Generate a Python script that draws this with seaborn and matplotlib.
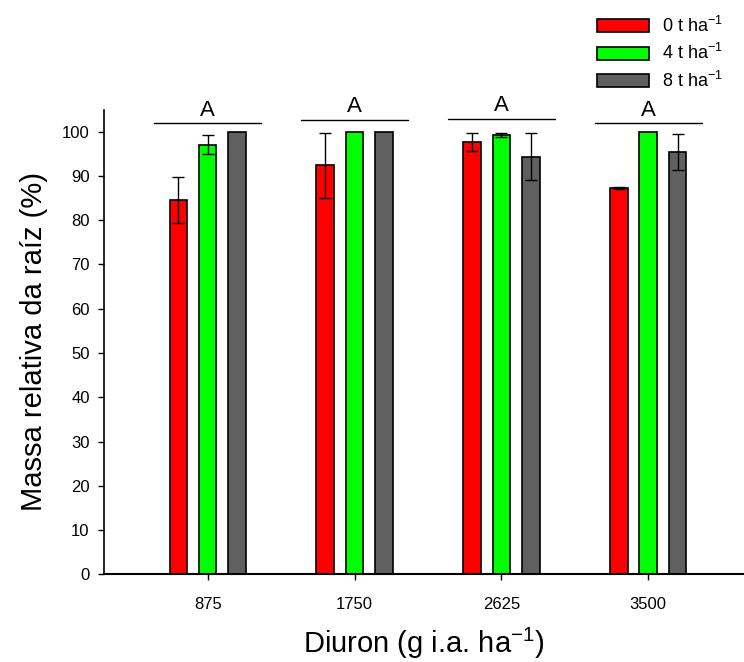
import numpy as np
import pandas as pd
import matplotlib
matplotlib.use("Agg")
import matplotlib.pyplot as plt
import seaborn as sns

# ---- data ----
doses = ["875", "1750", "2625", "3500"]
covers = ["0 t ha$^{-1}$", "4 t ha$^{-1}$", "8 t ha$^{-1}$"]
mass_0t = [84.6, 92.4, 97.7, 87.2]
mass_4t = [97.1, 100.0, 99.3, 100.0]
mass_8t = [100.0, 100.0, 94.4, 95.4]
err_0t = [5.2, 7.4, 2.1, 0.2]
err_4t = [2.1, 0.0, 0.4, 0.0]
err_8t = [0.0, 0.0, 5.4, 4.0]
letters = ["A", "A", "A", "A"]
letter_y = [101.9, 102.6, 102.9, 101.9]
colors = ["#FF0000", "#00FF00", "#606060"]

sns.set_theme(style="ticks")
plt.rcParams["font.family"] = ["Liberation Sans", "DejaVu Sans"]
plt.rcParams["mathtext.fontset"] = "custom"
plt.rcParams["mathtext.rm"] = "Liberation Sans"
plt.rcParams["mathtext.default"] = "regular"
for k in ["text.color", "axes.labelcolor", "xtick.color", "ytick.color", "axes.edgecolor"]:
    plt.rcParams[k] = "black"

rows = []
for c, vals in zip(covers, [mass_0t, mass_4t, mass_8t]):
    for d, v in zip(doses, vals):
        rows.append({"dose": d, "cover": c, "mass": v})
df = pd.DataFrame(rows)

fig = plt.figure(figsize=(7.44, 6.62), dpi=100)
ax = fig.add_axes([104.3 / 744, 87.7 / 662, (744 - 104.3) / 744, (574.3 - 109.6) / 662])

sns.barplot(data=df, x="dose", y="mass", hue="cover", order=doses, hue_order=covers,
            palette=colors, saturation=1, width=0.6, gap=0.4, edgecolor="black",
            linewidth=1.2, errorbar=None, ax=ax, legend=True)

errs = [err_0t, err_4t, err_8t]
vals_all = [mass_0t, mass_4t, mass_8t]
for cont, e, v in zip(ax.containers, errs, vals_all):
    for patch, ee, vv in zip(cont.patches, e, v):
        if ee > 0:
            xc = patch.get_x() + patch.get_width() / 2
            ax.errorbar(xc, vv, yerr=ee, fmt="none", ecolor="black", elinewidth=1.0,
                        capsize=4.5, capthick=1.0, zorder=5)

# group letters and lines
for i, (lt, ly) in enumerate(zip(letters, letter_y)):
    ax.plot([i - 0.365, i + 0.365], [ly, ly], color="black", lw=1.0, clip_on=False)
    ax.annotate(lt, (i, ly), xytext=(0, 2), textcoords="offset points", ha="center",
                va="bottom", fontsize=16, annotation_clip=False)

ax.set_xlim(-0.704, 3.652)
ax.set_ylim(0, 105)
ax.set_yticks(np.arange(0, 101, 10))
sns.despine(ax=ax)
ax.spines["left"].set_linewidth(1.2)
ax.spines["bottom"].set_linewidth(1.5)
ax.tick_params(axis="y", labelsize=12, length=4.5, width=1.0, pad=6, direction="out")
ax.tick_params(axis="x", labelsize=12, length=4.5, width=1.0, pad=12, direction="out")
ax.set_xlabel("Diuron (g i.a. ha$^{-1}$)", fontsize=21, labelpad=10)
ax.set_ylabel("Massa relativa da raíz (%)", fontsize=21, labelpad=10)

leg = ax.get_legend()
handles = leg.legend_handles
leg.remove()
fig.legend(handles, covers, loc="upper left", bbox_to_anchor=(597 / 744, 1 - 16 / 662),
           bbox_transform=fig.transFigure, frameon=False, fontsize=13,
           handlelength=2.9, handleheight=0.75, handletextpad=0.7, labelspacing=0.4,
           borderpad=0, borderaxespad=0)

fig.savefig("out.png", dpi=100)
